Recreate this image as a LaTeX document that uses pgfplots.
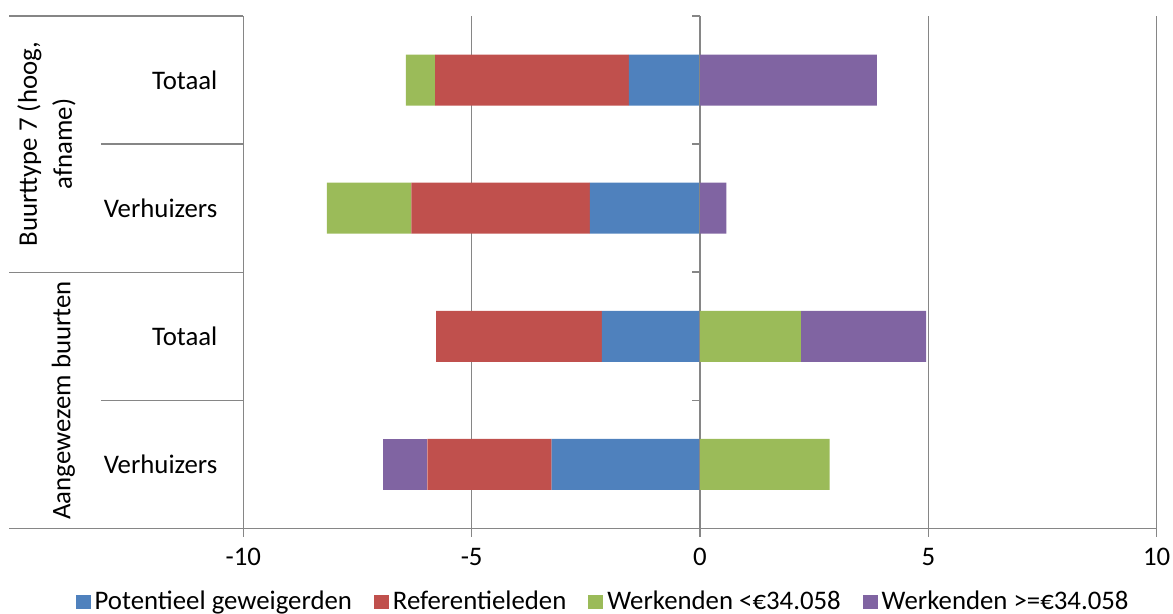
\documentclass[border=0pt]{standalone}
\usepackage{fontspec}
\setmainfont{Carlito}
\usepackage{pgfplots}
\pgfplotsset{compat=1.18}
\definecolor{cblue}{HTML}{4F81BD}
\definecolor{cred}{HTML}{C0504D}
\definecolor{cgreen}{HTML}{9BBB59}
\definecolor{cpurple}{HTML}{8064A2}
\definecolor{gridgray}{RGB}{134,134,134}
\pgfplotsset{
  common/.style={
    at={(0,0)}, anchor=south west, scale only axis,
    width=456.7bp, height=256.25bp,
    xmin=-10, xmax=10, ymin=-0.5, ymax=3.5,
    bar width=25.5bp,
    xbar stacked,
    clip=false,
  }
}
\begin{document}
\fontsize{13.4bp}{16bp}\selectfont
\begin{tikzpicture}
\useasboundingbox (-121.65bp,-42.75bp) rectangle (464.85bp,264.25bp);
% negative side
\begin{axis}[common,
  xtick={-10,-5,0,5,10},
  xmajorgrids, grid style={gridgray, line width=0.75bp},
  axis line style={draw=none},
  tick align=outside, major tick length=4bp,
  xtick pos=left, xticklabel pos=left,
  xtick style={gridgray, line width=0.75bp},
  ytick={0,1,2,3}, yticklabels={Verhuizers,Totaal,Verhuizers,Totaal},
  ytick style={draw=none},
  ytick pos=left, yticklabel pos=left,
  yticklabel style={anchor=east, xshift=-4.3bp},
  xticklabel style={yshift=-1bp},
  /pgf/number format/assume math mode=true,
  legend style={at={(0.395,-0.1434)}, anchor=center, draw=none, fill=none,
    legend columns=4,
    /tikz/every even column/.append style={column sep=9bp}},
  legend image code/.code={\fill[#1] (0bp,-3.5bp) rectangle (7.5bp,3.5bp);},
]
\addplot[fill=cblue, draw=none] coordinates {(-1.56,3) (-2.41,2) (-2.15,1) (-3.25,0)};
\addplot[fill=cred, draw=none] coordinates {(-4.24,3) (-3.91,2) (-3.63,1) (-2.72,0)};
\addplot[fill=cgreen, draw=none] coordinates {(-0.64,3) (-1.85,2) (0,1) (0,0)};
\addplot[fill=cpurple, draw=none] coordinates {(0,3) (0,2) (0,1) (-0.97,0)};
\legend{Potentieel geweigerden, Referentieleden, Werkenden <€34.058, Werkenden >=€34.058}
% category table
\draw[gridgray, line width=0.75bp] (axis cs:-15.13,3.5) -- (axis cs:-10,3.5);
\draw[gridgray, line width=0.75bp] (axis cs:-13.12,2.5) -- (axis cs:-10,2.5);
\draw[gridgray, line width=0.75bp] (axis cs:-15.13,1.5) -- (axis cs:-10,1.5);
\draw[gridgray, line width=0.75bp] (axis cs:-13.12,0.5) -- (axis cs:-10,0.5);
\draw[gridgray, line width=0.75bp] (axis cs:-15.13,-0.5) -- (axis cs:10,-0.5);
\node[rotate=90, align=center, font=\fontsize{13.4bp}{17.5bp}\selectfont] at (axis cs:-14.31,2.5) {Buurttype 7 (hoog,\\afname)};
\node[rotate=90] at (axis cs:-13.94,0.5) {Aangewezem buurten};
\end{axis}
% positive side
\begin{axis}[common, hide axis]
\addplot[fill=cgreen, draw=none] coordinates {(0,3) (0,2) (2.21,1) (2.84,0)};
\addplot[fill=cpurple, draw=none] coordinates {(3.87,3) (0.58,2) (2.74,1) (0,0)};
\draw[gridgray, line width=0.75bp] (axis cs:0,-0.5) -- (axis cs:0,3.5);
\draw[gridgray, line width=0.75bp] (axis cs:0,3.5) -- ([xshift=-4bp]axis cs:0,3.5);
\draw[gridgray, line width=0.75bp] (axis cs:0,2.5) -- ([xshift=-4bp]axis cs:0,2.5);
\draw[gridgray, line width=0.75bp] (axis cs:0,1.5) -- ([xshift=-4bp]axis cs:0,1.5);
\draw[gridgray, line width=0.75bp] (axis cs:0,0.5) -- ([xshift=-4bp]axis cs:0,0.5);
\end{axis}
\end{tikzpicture}
\end{document}
